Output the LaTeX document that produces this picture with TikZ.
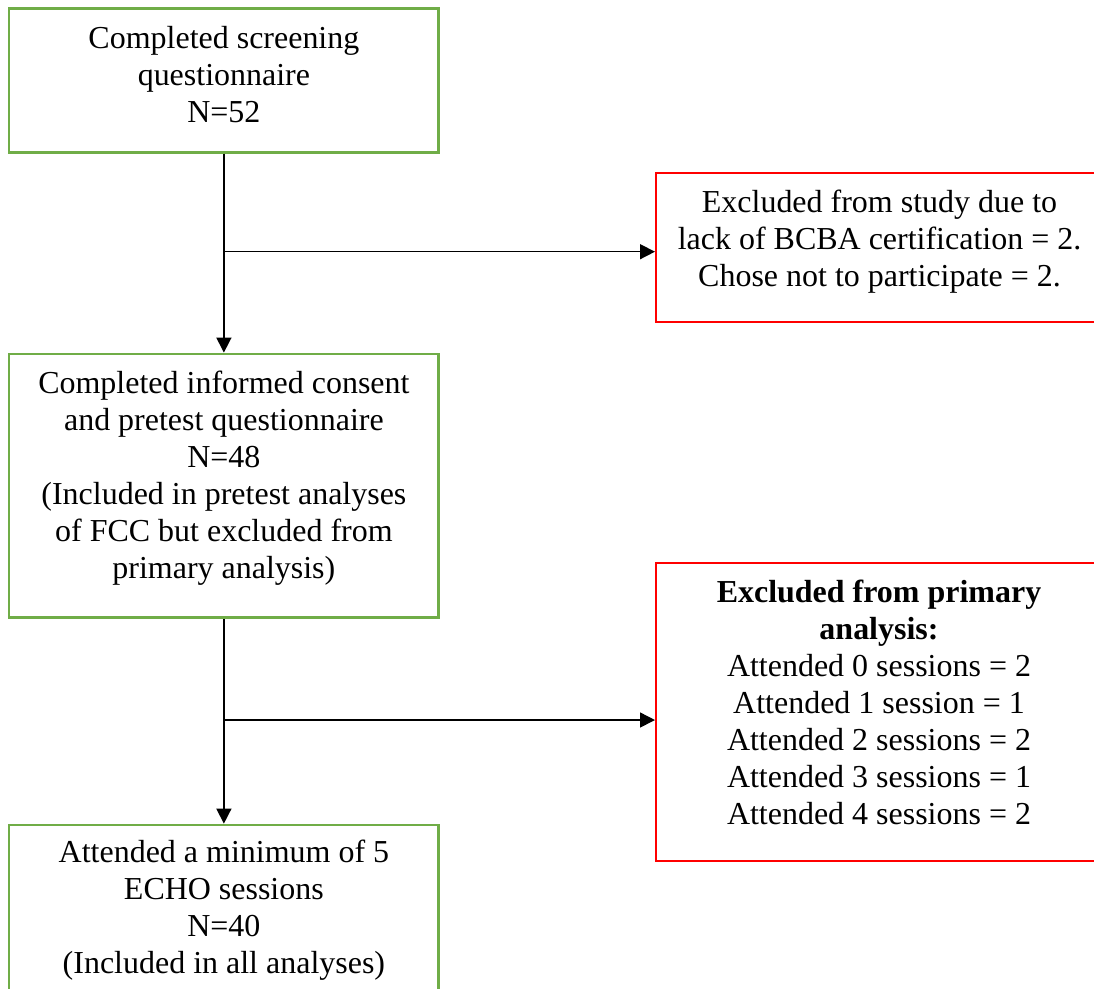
\documentclass[tikz,border=0pt]{standalone}
\usepackage{fontspec}
\setmainfont{Liberation Serif}
\usetikzlibrary{positioning,calc,arrows.meta}
\definecolor{okgreen}{RGB}{112,173,71}
\newcommand*{\chartfont}{\fontsize{18.2}{21.05}\selectfont}

\begin{document}
\begin{tikzpicture}[x=0.02cm,y=-0.02cm,
  gbox/.style={draw=okgreen,line width=1.6pt},
  rbox/.style={draw=red,line width=1.2pt},
  words/.style={align=center,font=\chartfont,inner sep=0pt},
  flow/.style={line width=0.85pt,-{Triangle[length=8.5pt,width=8.5pt]}}]
\useasboundingbox (0,0) rectangle (1094,988);
\clip (0,0) rectangle (1094,988);
% Boxes of the chart
\node[gbox,minimum width=8.6cm,minimum height=2.87cm] (scr) at (223.9,80.5) {};
\node[gbox,minimum width=8.6cm,minimum height=5.27cm] (cons) at (223.9,485.7) {};
\node[gbox,minimum width=8.6cm,minimum height=3.8cm] (echo) at (223.9,920) {};
\node[rbox,minimum width=8.92cm,minimum height=2.97cm] (excl) at (879,247.5) {};
\node[rbox,minimum width=8.92cm,minimum height=5.96cm] (prim) at (879,711.7) {};
% Texts of the boxes
\node[words] (scrtxt) at (223.9,75) {Completed screening\\questionnaire\\N=52};
\node[words] (constxt) at (223.9,478) {Completed informed consent\\and pretest questionnaire\\N=48\\
  (Included in pretest analyses\\of FCC but excluded from\\primary analysis)};
\node[words] (echotxt) at (223.9,910) {Attended a minimum of 5\\ECHO sessions\\N=40\\(Included in all analyses)};
\node[words] (excltxt) at (879.5,241.7) {Excluded from study due to\\lack of BCBA certification = 2.\\
  Chose not to participate = 2.};
\node[words] (primtxt) at (879,702.5) {\textbf{Excluded from primary}\\\textbf{analysis:}\\
  Attended 0 sessions = 2\\Attended 1 session = 1\\Attended 2 sessions = 2\\
  Attended 3 sessions = 1\\Attended 4 sessions = 2};
% Branch points on the main line
\coordinate (j1) at (223.9,251.7);
\coordinate (j2) at (223.9,720);
% Connectors
\draw[flow] (scr.south) -- (cons.north);
\draw[flow] (cons.south) -- (echo.north);
\draw[flow] (j1) -- (j1 -| excl.west);
\draw[flow] (j2) -- (j2 -| prim.west);
\end{tikzpicture}
\end{document}
